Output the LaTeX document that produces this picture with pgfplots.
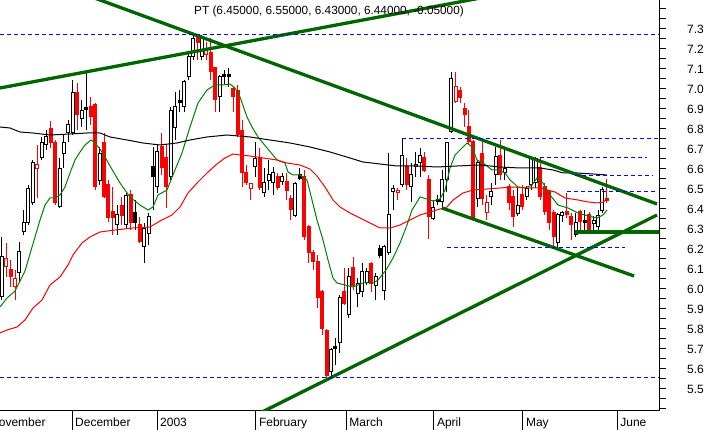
\documentclass[border=0pt]{standalone}
\usepackage{fontspec}
\setmainfont{Liberation Sans}
\usepackage{pgfplots}
\usepackage{pgfplotstable}
\pgfplotsset{compat=1.18}
\definecolor{magreen}{RGB}{0,128,0}
\definecolor{trend}{RGB}{0,100,0}
\definecolor{lvl}{RGB}{0,0,255}

% daily candles: i = trading day, o h l c, t = 0 white, 1 red, 2 black, 3 hollow red
\pgfplotstableread{
i o h l c t
0 5.960 6.260 5.945 6.160 0
1 6.110 6.230 6.060 6.150 3
2 6.095 6.145 6.010 6.060 1
3 6.010 6.095 5.945 6.050 3
4 6.080 6.235 6.030 6.185 0
5 6.285 6.395 6.270 6.330 0
6 6.330 6.520 6.320 6.500 0
7 6.430 6.645 6.420 6.630 0
8 6.600 6.720 6.455 6.620 3
9 6.655 6.760 6.645 6.730 0
10 6.720 6.795 6.695 6.760 0
11 6.800 6.840 6.705 6.730 1
12 6.730 6.745 6.420 6.430 1
13 6.410 6.655 6.405 6.600 0
14 6.675 6.770 6.605 6.730 0
15 6.780 6.845 6.735 6.820 0
16 6.780 7.045 6.770 6.980 0
17 6.980 7.030 6.795 6.870 1
18 6.850 6.945 6.810 6.890 0
19 6.905 7.085 6.795 6.895 2
20 6.910 6.960 6.820 6.860 1
21 6.920 6.930 6.495 6.510 1
22 6.540 6.710 6.520 6.675 0
23 6.730 6.780 6.455 6.460 1
24 6.520 6.545 6.335 6.355 1
25 6.385 6.510 6.270 6.355 1
26 6.320 6.420 6.270 6.370 0
27 6.415 6.460 6.320 6.365 1
28 6.320 6.480 6.305 6.465 0
29 6.470 6.495 6.295 6.330 1
30 6.380 6.445 6.295 6.330 2
31 6.320 6.360 6.230 6.235 1
32 6.210 6.330 6.130 6.300 0
33 6.275 6.380 6.220 6.360 0
34 6.610 6.710 6.395 6.560 2
35 6.510 6.720 6.480 6.685 0
36 6.710 6.780 6.570 6.605 1
37 6.655 6.720 6.405 6.510 1
38 6.560 6.910 6.545 6.890 0
39 6.805 6.985 6.745 6.910 0
40 6.940 6.995 6.885 6.930 2
41 6.910 7.045 6.885 7.035 0
42 7.060 7.185 7.045 7.160 0
43 7.160 7.270 7.145 7.250 0
44 7.265 7.270 7.145 7.230 1
45 7.160 7.270 7.145 7.260 0
46 7.170 7.235 7.145 7.200 3
47 7.180 7.255 7.045 7.085 1
48 7.105 7.110 6.885 6.945 1
49 6.960 7.070 6.885 7.060 0
50 7.070 7.095 7.020 7.060 2
51 7.070 7.105 7.010 7.060 2
52 7.000 7.015 6.885 6.960 1
53 6.990 7.020 6.760 6.770 1
54 6.790 6.845 6.510 6.580 1
55 6.580 6.620 6.520 6.530 1
56 6.500 6.530 6.445 6.525 3
57 6.610 6.735 6.560 6.650 0
58 6.655 6.705 6.495 6.505 1
59 6.480 6.605 6.460 6.530 0
60 6.540 6.645 6.495 6.570 0
61 6.530 6.610 6.470 6.580 0
62 6.560 6.580 6.495 6.505 1
63 6.535 6.580 6.520 6.560 0
64 6.535 6.580 6.445 6.490 1
65 6.450 6.470 6.345 6.395 1
66 6.365 6.535 6.360 6.525 0
67 6.570 6.605 6.545 6.550 2
68 6.560 6.595 6.245 6.260 1
69 6.310 6.320 6.130 6.180 1
70 6.180 6.195 6.095 6.135 1
71 6.135 6.170 5.905 5.955 1
72 5.985 5.995 5.770 5.800 1
73 5.790 5.800 5.555 5.565 1
74 5.585 5.705 5.555 5.695 0
75 5.710 5.755 5.620 5.700 2
76 5.730 5.970 5.680 5.955 0
77 5.985 6.105 5.920 5.925 1
78 5.870 6.105 5.855 6.060 0
79 6.105 6.160 5.995 6.015 1
80 5.975 6.055 5.910 6.025 0
81 5.985 6.130 5.960 6.085 0
82 6.030 6.105 6.020 6.085 0
83 6.125 6.135 5.985 6.025 1
84 6.015 6.080 5.945 6.060 0
85 6.200 6.220 6.155 6.165 2
86 5.990 6.220 5.945 6.210 0
87 6.180 6.680 6.170 6.370 0
88 6.485 6.520 6.395 6.500 0
89 6.480 6.505 6.445 6.490 3
90 6.520 6.750 6.510 6.665 0
91 6.610 6.655 6.495 6.520 1
92 6.510 6.630 6.435 6.570 0
93 6.610 6.685 6.560 6.620 0
94 6.630 6.705 6.560 6.665 0
95 6.655 6.685 6.585 6.590 1
96 6.545 6.570 6.250 6.360 1
97 6.350 6.445 6.345 6.405 0
98 6.445 6.470 6.420 6.435 2
99 6.435 6.595 6.410 6.545 0
100 6.545 6.735 6.485 6.730 0
101 6.785 7.085 6.780 7.050 0
102 6.935 7.085 6.930 7.010 3
103 6.990 7.010 6.930 6.955 1
104 6.900 6.930 6.810 6.870 1
105 6.810 6.895 6.720 6.735 1
106 6.735 6.745 6.345 6.355 1
107 6.450 6.645 6.410 6.630 0
108 6.675 6.735 6.420 6.450 1
109 6.380 6.470 6.345 6.430 3
110 6.460 6.530 6.420 6.485 0
111 6.570 6.710 6.520 6.660 0
112 6.665 6.745 6.545 6.570 1
113 6.580 6.710 6.545 6.600 0
114 6.510 6.525 6.395 6.430 1
115 6.460 6.495 6.310 6.360 1
116 6.375 6.505 6.365 6.415 0
117 6.470 6.520 6.395 6.410 1
118 6.460 6.515 6.445 6.500 0
119 6.520 6.660 6.495 6.650 0
120 6.530 6.660 6.505 6.650 0
121 6.605 6.655 6.445 6.460 1
122 6.510 6.530 6.370 6.385 1
123 6.485 6.495 6.295 6.330 1
124 6.380 6.395 6.210 6.260 1
125 6.230 6.380 6.205 6.370 0
126 6.365 6.390 6.335 6.380 0
127 6.385 6.480 6.355 6.370 1
128 6.360 6.380 6.245 6.320 1
129 6.270 6.380 6.260 6.330 0
130 6.385 6.395 6.285 6.335 1
131 6.340 6.395 6.285 6.330 2
132 6.370 6.385 6.285 6.290 1
133 6.325 6.365 6.285 6.340 0
134 6.310 6.395 6.285 6.365 0
135 6.390 6.510 6.380 6.495 0
136 6.450 6.550 6.430 6.440 1
}\candles

\begin{document}
\fontsize{12pt}{14pt}\selectfont
\begin{tikzpicture}
\begin{axis}[
    at={(0,0)}, anchor=south west,
    scale only axis, width=659pt, height=411pt,
    xmin=-0.38, xmax=147.7, ymin=5.39, ymax=7.445,
    axis x line*=bottom, axis y line*=right,
    axis line style={line width=1pt, black},
    tick align=outside,
    tick style={line width=1pt, black},
    major tick length=7pt, minor tick length=6pt,
    xtick=\empty,
    minor xtick={1.2,5.9,11.1,21.4,26.1,31.3,33.1,41.9,47.0,52.0,61.9,66.8,72.2,81.2,86.1,91.1,96.0,105.9,110.4,114.2,123.7,128.4,133.3,143.0},
    extra x ticks={15.8,34.9,57.1,77.4,97.1,117.1,138.3},
    extra x tick labels={December,2003,February,March,April,May,June},
    extra x tick style={major tick length=19pt,
        tick label style={anchor=base west, xshift=-1pt, yshift=3.5pt}},
    ytick={5.40,5.45,5.50,5.55,5.60,5.65,5.70,5.75,5.80,5.85,5.90,5.95,6.00,6.05,6.10,6.15,6.20,6.25,6.30,6.35,6.40,6.45,6.50,6.55,6.60,6.65,6.70,6.75,6.80,6.85,6.90,6.95,7.00,7.05,7.10,7.15,7.20,7.25,7.30,7.35,7.40},
    yticklabels={,,5.5,,5.6,,5.7,,5.8,,5.9,,6.0,,6.1,,6.2,,6.3,,6.4,,6.5,,6.6,,6.7,,6.8,,6.9,,7.0,,7.1,,7.2,,7.3,,},
    yticklabel style={anchor=west, xshift=17pt},
]

% wicks
\addplot[draw=none, mark=none, forget plot,
    restrict expr to domain={mod(\thisrow{t},2)}{0:0},
    error bars/.cd, y dir=plus, y explicit, error mark=none,
    error bar style={draw=black, line width=1pt}]
    table[x=i, y=l, y error plus expr={\thisrow{h}-\thisrow{l}}] {\candles};
\addplot[draw=none, mark=none, forget plot,
    restrict expr to domain={mod(\thisrow{t},2)}{1:1},
    error bars/.cd, y dir=plus, y explicit, error mark=none,
    error bar style={draw=red, line width=1pt}]
    table[x=i, y=l, y error plus expr={\thisrow{h}-\thisrow{l}}] {\candles};

% bodies
\addplot[draw=none, mark=none, forget plot,
    restrict expr to domain={mod(\thisrow{t},2)}{0:0},
    error bars/.cd, y dir=plus, y explicit, error mark=none,
    error bar style={draw=black, line width=4pt}]
    table[x=i, y expr={min(\thisrow{o},\thisrow{c})-0.0025},
          y error plus expr={abs(\thisrow{c}-\thisrow{o})+0.005}] {\candles};
\addplot[draw=none, mark=none, forget plot,
    restrict expr to domain={mod(\thisrow{t},2)}{1:1},
    error bars/.cd, y dir=plus, y explicit, error mark=none,
    error bar style={draw=red, line width=4pt}]
    table[x=i, y expr={min(\thisrow{o},\thisrow{c})-0.0025},
          y error plus expr={abs(\thisrow{c}-\thisrow{o})+0.005}] {\candles};
% hollow insides
\addplot[draw=none, mark=none, forget plot,
    restrict expr to domain={\thisrow{t}*(3-\thisrow{t})}{0:0},
    error bars/.cd, y dir=plus, y explicit, error mark=none,
    error bar style={draw=white, line width=2pt}]
    table[x=i, y expr={min(\thisrow{o},\thisrow{c})+0.0025},
          y error plus expr={abs(\thisrow{c}-\thisrow{o})-0.005}] {\candles};

% moving averages
\addplot[magreen, line width=1pt, mark=none] coordinates {
(-0.38,5.910)(1.19,5.955)(2.99,5.990)(4.11,6.040)(5.24,6.090)(6.36,6.175)(7.48,6.260)(8.61,6.345)(9.73,6.420)(10.85,6.455)(11.98,6.455)(13.10,6.470)(14.22,6.510)(15.35,6.580)(16.47,6.645)(17.60,6.685)(18.72,6.720)(20.07,6.745)(20.97,6.730)(22.09,6.700)(23.21,6.660)(24.34,6.615)(26.58,6.530)(28.83,6.460)(31.08,6.420)(32.88,6.395)(34.00,6.410)(35.12,6.470)(37.15,6.495)(38.94,6.595)(40.52,6.680)(42.31,6.810)(44.11,6.930)(46.13,6.995)(47.93,7.020)(49.51,7.020)(51.30,7.025)(52.43,7.005)(53.55,6.960)(55.12,6.860)(56.25,6.810)(57.60,6.760)(59.62,6.705)(61.87,6.645)(63.66,6.630)(64.34,6.585)(65.46,6.570)(67.03,6.570)(68.61,6.545)(69.73,6.445)(70.85,6.345)(72.20,6.245)(73.33,6.145)(74.45,6.055)(75.35,6.030)(77.15,6.020)(78.94,6.010)(81.19,6.030)(83.44,6.030)(84.56,6.045)(86.36,6.095)(87.93,6.155)(89.51,6.230)(91.08,6.320)(92.20,6.395)(94.00,6.460)(95.57,6.450)(96.92,6.440)(98.49,6.450)(99.62,6.495)(100.74,6.605)(101.87,6.670)(102.99,6.695)(104.56,6.730)(105.69,6.710)(106.81,6.645)(108.16,6.630)(110.18,6.595)(111.53,6.595)(113.10,6.580)(114.22,6.545)(116.02,6.510)(117.60,6.505)(119.17,6.520)(120.29,6.555)(121.64,6.530)(123.21,6.470)(125.01,6.420)(127.26,6.405)(129.51,6.380)(131.75,6.365)(133.78,6.355)(135.12,6.370)(136.02,6.395)
};
\addplot[red, line width=1pt, mark=none] coordinates {
(-0.38,5.780)(1.19,5.795)(3.44,5.810)(5.24,5.845)(7.03,5.905)(9.06,5.945)(10.85,6.020)(13.10,6.060)(14.90,6.120)(16.02,6.170)(18.04,6.230)(19.84,6.260)(22.09,6.285)(25.46,6.295)(29.51,6.305)(33.33,6.310)(35.57,6.340)(38.27,6.370)(40.07,6.410)(41.87,6.480)(44.11,6.535)(46.13,6.580)(48.38,6.625)(50.18,6.655)(51.98,6.675)(53.55,6.670)(55.80,6.665)(58.72,6.655)(61.87,6.645)(64.11,6.630)(67.03,6.620)(69.28,6.600)(70.85,6.565)(72.65,6.510)(74.45,6.445)(76.02,6.410)(78.27,6.380)(80.52,6.355)(82.76,6.330)(85.01,6.305)(87.26,6.305)(89.51,6.320)(91.75,6.345)(94.00,6.370)(96.25,6.385)(98.49,6.400)(100.07,6.410)(101.42,6.445)(103.66,6.480)(105.91,6.495)(109.06,6.500)(111.98,6.505)(114.90,6.510)(118.04,6.505)(120.96,6.505)(124.34,6.485)(126.58,6.455)(129.51,6.445)(131.75,6.435)(134.00,6.430)(135.12,6.435)(136.02,6.450)
};
\addplot[black, line width=1pt, mark=none] coordinates {
(-0.38,6.810)(1.87,6.805)(4.11,6.785)(7.03,6.780)(10.85,6.770)(15.35,6.775)(19.17,6.780)(22.09,6.780)(24.34,6.760)(28.16,6.745)(31.75,6.730)(35.57,6.720)(39.39,6.730)(42.31,6.745)(46.13,6.760)(50.63,6.770)(55.80,6.760)(60.29,6.745)(64.79,6.730)(69.28,6.710)(73.78,6.685)(78.27,6.655)(81.19,6.635)(85.01,6.625)(88.83,6.615)(93.33,6.615)(97.82,6.610)(102.31,6.615)(107.48,6.620)(111.98,6.610)(116.47,6.605)(120.96,6.605)(123.89,6.595)(126.13,6.580)(129.28,6.580)(132.88,6.575)(136.02,6.570)
};

% trend lines
\addplot[trend, line width=3.3pt, mark=none] coordinates {(-0.38,7.005)(110,7.465)};
\addplot[trend, line width=3.3pt, mark=none] coordinates {(17.6,7.4815)(147.26,6.425)};
\addplot[trend, line width=3.3pt, mark=none] coordinates {(98.94,6.405)(142.1,6.065)};
\addplot[trend, line width=3.3pt, mark=none] coordinates {(54.9,5.345)(147.26,6.370)};
\addplot[trend, line width=3.3pt, mark=none] coordinates {(128.8,6.285)(147.7,6.285)};

% horizontal levels
\addplot[lvl, line width=1pt, dash pattern=on 4pt off 3pt, mark=none] coordinates {(-0.38,7.27)(147.5,7.27)};
\addplot[lvl, line width=1pt, dash pattern=on 4pt off 3pt, mark=none] coordinates {(-0.38,5.555)(147.5,5.555)};
\addplot[lvl, line width=1pt, dash pattern=on 4pt off 3pt, mark=none] coordinates {(89.96,6.75)(147.5,6.75)};
\addplot[lvl, line width=1pt, dash pattern=on 4pt off 3pt, mark=none] coordinates {(120.96,6.655)(145.0,6.655)};
\addplot[lvl, line width=1pt, dash pattern=on 4pt off 3pt, mark=none] coordinates {(128.8,6.565)(146.4,6.565)};
\addplot[lvl, line width=1pt, dash pattern=on 4pt off 3pt, mark=none] coordinates {(127.0,6.485)(147.0,6.485)};
\addplot[lvl, line width=1pt, dash pattern=on 4pt off 3pt, mark=none] coordinates {(100.1,6.205)(140.1,6.205)};
\end{axis}
\node[anchor=base, font=\fontsize{11.8pt}{14pt}\selectfont] at (329pt,396pt) {PT (6.45000, 6.55000, 6.43000, 6.44000, -0.05000)};
\node[anchor=base west] at (-14pt,-15.5pt) {November};
\pgfresetboundingbox
\path[use as bounding box] (0,-19pt) rectangle (707pt,411pt);
\end{tikzpicture}
\end{document}
